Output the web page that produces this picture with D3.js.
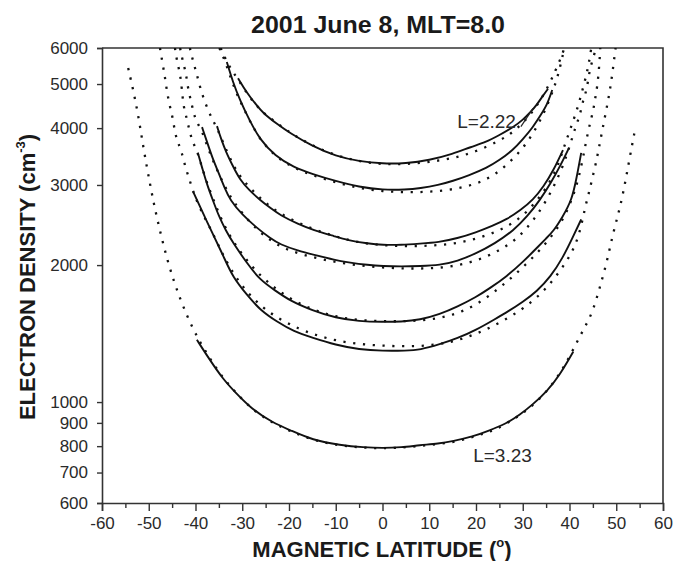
<!DOCTYPE html>
<html><head><meta charset="utf-8">
<script src="https://cdn.jsdelivr.net/npm/d3@7"></script>
<style>body{margin:0;background:#fff}</style>
</head><body><svg id="c" width="679" height="561"></svg>
<script>
const title = "2001 June 8, MLT=8.0";
const latTicks = [-60,-50,-40,-30,-20,-10,0,10,20,30,40,50,60];
const latMinorTicks = [-55,-45,-35,-25,-15,-5,5,15,25,35,45,55];
const densityTicks = [600,700,800,900,1000,2000,3000,4000,5000,6000];

// observed profiles (solid)  [latitude, density]
const obsA = [[-30.9,5150],[-29,4780],[-27,4500],[-25.6,4320],[-22.5,4080],[-19.8,3900],[-15,3650],[-10,3470],[-5,3380],[0,3340],[5,3345],[10,3400],[15,3510],[19,3640],[22,3720],[25,3860],[28,4020],[30,4170],[31.6,4330],[33,4500],[34.3,4710],[35.4,4880]];
const obsB = [[-33.3,5590],[-32,5050],[-30.5,4610],[-28.5,4170],[-26.2,3770],[-23,3480],[-19.1,3285],[-15,3170],[-10,3060],[-5,2970],[0,2925],[5,2930],[8,2950],[12,3000],[15,3060],[18.5,3150],[22.3,3270],[25,3400],[27.9,3580],[30,3780],[32.2,4020],[34,4300],[35.2,4500],[36.3,4850]];
const obsC = [[-35.4,4040],[-34.5,3780],[-33.5,3550],[-32,3300],[-30.5,3080],[-28.5,2920],[-26.2,2780],[-24,2670],[-21.9,2575],[-18,2460],[-14.9,2390],[-10,2310],[-7.6,2270],[-3,2230],[0,2215],[4,2215],[8,2230],[12,2245],[16,2290],[20,2360],[23.5,2440],[26.6,2520],[29.5,2640],[32.2,2780],[34.5,2980],[36.5,3220],[38.6,3580]];
const obsD = [[-38.6,4020],[-37.5,3720],[-36.3,3420],[-35,3180],[-33.8,2960],[-32.6,2780],[-30,2580],[-27,2420],[-24,2290],[-21.9,2220],[-18,2150],[-14.9,2110],[-10,2050],[-7.6,2030],[-3,2000],[0,1990],[4,1985],[8,1990],[12.3,2000],[16,2040],[20,2120],[24,2230],[28,2380],[31,2560],[33.7,2780],[36,3030],[38,3300],[39.9,3620]];
const obsE = [[-39.5,3530],[-38.5,3250],[-37.5,3000],[-36.3,2780],[-35,2560],[-33.5,2380],[-32,2240],[-29,2020],[-26.2,1855],[-23,1760],[-19.8,1670],[-15,1590],[-10,1530],[-5,1505],[0,1500],[4,1502],[8,1515],[12.3,1560],[16,1620],[20,1700],[23,1780],[26.6,1890],[30,2030],[33,2180],[35,2290],[36.5,2370],[38.5,2550],[40.5,2780],[41.5,3100],[42.5,3530]];
const obsF = [[-40.5,2900],[-39.7,2780],[-38,2550],[-36.3,2340],[-34,2090],[-32,1880],[-29,1720],[-26.2,1594],[-22.5,1500],[-19,1430],[-15,1385],[-10,1335],[-5,1305],[0,1295],[5,1297],[8,1302],[12.3,1340],[16,1380],[20,1440],[24,1520],[27,1585],[30,1660],[33,1750],[36,1890],[38.5,2070],[40.5,2280],[42.5,2520]];
const obsG = [[-39.7,1370],[-37,1240],[-34,1120],[-32,1064],[-28,965],[-23.4,900],[-19.8,868],[-15,825],[-9,804],[-4,795],[0,792],[4,795],[8,804],[12,810],[15,820],[19.4,840],[22.4,862],[26.6,898],[29.4,938],[32,985],[35.2,1055],[38,1150],[40.8,1290]];

// model profiles (dotted)  [latitude, density]
const modelA = [[-34.6,6000],[-33.5,5650],[-32.2,5350],[-30.9,5120],[-29,4770],[-27,4480],[-25,4280],[-22,4060],[-19,3860],[-15,3660],[-10,3480],[-5,3380],[0,3330],[5,3330],[10,3370],[15,3430],[20,3550],[25,3750],[28,3920],[31,4200],[33.5,4550],[35.5,4950],[37,5350],[38.3,5750],[38.9,6000]];
const modelB = [[-34.9,6000],[-33.6,5600],[-32.2,5050],[-30.6,4610],[-28.5,4170],[-26.2,3770],[-23,3470],[-19,3270],[-15,3150],[-10,3040],[-5,2950],[0,2905],[5,2890],[10,2895],[15,2930],[20,3010],[24,3150],[28,3420],[31,3720],[33.5,4100],[35.5,4550],[37,5000],[38,5450],[38.9,6000]];
const modelC = [[-41.2,6000],[-40.5,5600],[-39.7,5250],[-39,4900],[-37.8,4500],[-36.5,4200],[-35.4,4000],[-34,3700],[-32,3320],[-30,3080],[-27,2860],[-24,2680],[-20,2530],[-15,2400],[-10,2310],[-5,2240],[0,2210],[5,2200],[10,2205],[15,2225],[20,2280],[25,2380],[29,2510],[32.5,2720],[35.5,3000],[37.5,3300],[38.6,3580],[40.1,3960],[41.6,4380],[42.9,4900],[44,5430],[44.6,5950],[44.8,6100]];
const modelD = [[-43.3,6000],[-42.7,5600],[-42,5270],[-41.6,4870],[-40.7,4470],[-40.1,4180],[-38.6,3950],[-37.5,3650],[-36.3,3400],[-35,3170],[-33.5,2950],[-32,2760],[-28,2450],[-24,2260],[-20,2150],[-15,2080],[-10,2030],[-5,1995],[0,1975],[5,1965],[10,1965],[15,1985],[20,2040],[25,2150],[29,2290],[32.5,2520],[35.5,2820],[38,3180],[39.9,3600],[41.2,4010],[42.2,4250],[42.9,4610],[43.7,4850],[44.2,5300],[44.9,5640],[45.7,6000]];
const modelE = [[-44.4,6000],[-44,5640],[-43.3,5270],[-42.9,4870],[-42.6,4470],[-41.8,4180],[-41.2,3900],[-40.5,3710],[-39.5,3530],[-38.5,3250],[-37.3,2980],[-36,2760],[-34.5,2520],[-32,2250],[-28,1980],[-24,1810],[-20,1690],[-15,1595],[-10,1540],[-5,1512],[0,1505],[5,1505],[10,1515],[15,1550],[20,1630],[25,1780],[29,1930],[33,2120],[36,2300],[38.5,2500],[40.5,2780],[42,3100],[43.3,3620],[43.9,3900],[44.5,4140],[45.1,4380],[45.5,4660],[45.9,4900],[46.3,5370],[46.5,5800],[46.6,6050]];
const modelF = [[-47.6,6000],[-47,5520],[-46.5,5150],[-46.1,4810],[-45.5,4470],[-44.8,4190],[-44.4,3900],[-43.7,3710],[-42.9,3530],[-42.2,3290],[-41.4,3110],[-40.5,2900],[-39,2650],[-37,2430],[-35,2200],[-33,2000],[-30,1790],[-26,1620],[-22,1520],[-18,1450],[-14,1400],[-10,1365],[-5,1340],[0,1330],[5,1325],[10,1330],[15,1355],[20,1410],[25,1490],[30,1600],[34,1730],[37,1880],[40,2080],[42,2300],[43.3,2670],[44,2840],[44.8,3080],[45.6,3330],[46.3,3620],[47,3950],[47.8,4350],[48.6,4800],[49.2,5300],[49.8,5950],[49.9,6050]];
const modelG = [[-54.4,5420],[-52.5,4450],[-51.2,3640],[-49.7,3000],[-48.5,2600],[-46,2030],[-43.3,1680],[-40.5,1440],[-38,1300],[-35,1160],[-32,1065],[-28,965],[-24,905],[-20,865],[-15,825],[-10,805],[-5,795],[0,790],[5,795],[10,805],[15,815],[18.7,834],[21.5,852],[24.1,869],[26.8,900],[29.8,942],[32.6,991],[36,1080],[39,1200],[41.8,1369],[43.3,1462],[45,1580],[46.5,1790],[48,2030],[49.3,2350],[50.8,2670],[51.9,3030],[52.9,3456],[54,3960]];

const observed = [obsA, obsB, obsC, obsD, obsE, obsF, obsG];
const models = [modelA, modelB, modelC, modelD, modelE, modelF, modelG];

const labels = [
  {text: "L=2.22", lat: 16.0, dens: 4010, lineFrom: [29.6, 4030], lineTo: [32.2, 4420]},
  {text: "L=3.23", lat: 19.4, dens: 738}
];

const FONT = "'Liberation Sans', Arial, Helvetica, sans-serif";
const TXT = "#2a2a2a";
const svg = d3.select("#c");
const x = d3.scaleLinear().domain([-60, 60]).range([102, 663]);
const y = d3.scaleLog().domain([600, 6000]).range([503, 48]);

svg.append("defs").append("clipPath").attr("id","clip")
  .append("rect").attr("x", x(-60)).attr("y", y(6000)).attr("width", x(60)-x(-60)).attr("height", y(600)-y(6000));

// frame top & right
svg.append("path")
  .attr("d", `M${x(-60)},${y(6000)}H${x(60)}V${y(600)}`)
  .attr("fill","none").attr("stroke","#333").attr("stroke-width",1.6);

const hyphenFmt = d => String(d);
// x axis
const gx = svg.append("g").attr("transform", `translate(0,${y(600)})`)
  .call(d3.axisBottom(x).tickValues(latTicks).tickSize(8).tickPadding(6).tickFormat(hyphenFmt));
svg.append("g").attr("transform", `translate(0,${y(600)})`)
  .call(d3.axisBottom(x).tickValues(latMinorTicks).tickSize(5).tickFormat(""))
  .call(g => g.select(".domain").remove());
// y axis
const gy = svg.append("g").attr("transform", `translate(${x(-60)},0)`)
  .call(d3.axisLeft(y).tickValues(densityTicks).tickSize(5).tickPadding(9).tickFormat(hyphenFmt));

svg.selectAll(".domain").attr("stroke","#333").attr("stroke-width",1.6);
svg.selectAll(".tick line").attr("stroke","#333").attr("stroke-width",1.4);
gx.selectAll(".tick text").attr("font-family",FONT).attr("font-size",17).attr("fill",TXT);
gy.selectAll(".tick text").attr("font-family",FONT).attr("font-size",17).attr("fill",TXT);

const plot = svg.append("g").attr("clip-path","url(#clip)");
const line = d3.line().x(d => x(d[0])).y(d => y(d[1])).curve(d3.curveBasis);

plot.selectAll("path.model").data(models).join("path").attr("class","model")
  .attr("d", line).attr("fill","none").attr("stroke","#111")
  .attr("stroke-width",2.3).attr("stroke-dasharray","2.2 7.6");

plot.selectAll("path.obs").data(observed).join("path").attr("class","obs")
  .attr("d", line).attr("fill","none").attr("stroke","#111")
  .attr("stroke-width",1.9).attr("stroke-linejoin","round");

// labels
labels.forEach(l => {
  svg.append("text").attr("x", x(l.lat)).attr("y", y(l.dens))
    .attr("font-family",FONT).attr("font-size",19).attr("fill",TXT).text(l.text);
  if (l.lineFrom) {
    svg.append("line").attr("x1", x(l.lineFrom[0])).attr("y1", y(l.lineFrom[1]))
      .attr("x2", x(l.lineTo[0])).attr("y2", y(l.lineTo[1]))
      .attr("stroke","#222").attr("stroke-width",1.2);
  }
});

// title
svg.append("text").attr("x", 378).attr("y", 33).attr("text-anchor","middle")
  .attr("font-family",FONT).attr("font-weight","bold").attr("font-size",23).attr("fill","#1a1a1a")
  .attr("textLength", 254).attr("lengthAdjust","spacingAndGlyphs").text(title);

// x label
const xl = svg.append("text").attr("x", 382).attr("y", 557).attr("text-anchor","middle")
  .attr("font-family",FONT).attr("font-weight","bold").attr("font-size",22).attr("fill","#1a1a1a");
xl.append("tspan").text("MAGNETIC LATITUDE (");
xl.append("tspan").attr("font-size",13).attr("dy",-10).text("o");
xl.append("tspan").attr("dy",10).text(")");

// y label
const yl = svg.append("text").attr("transform","translate(35,277) rotate(-90)").attr("text-anchor","middle")
  .attr("font-family",FONT).attr("font-weight","bold").attr("font-size",22).attr("fill","#1a1a1a");
yl.append("tspan").text("ELECTRON DENSITY (cm");
yl.append("tspan").attr("font-size",13).attr("dy",-10).text("-3");
yl.append("tspan").attr("dy",10).text(")");
</script></body></html>
